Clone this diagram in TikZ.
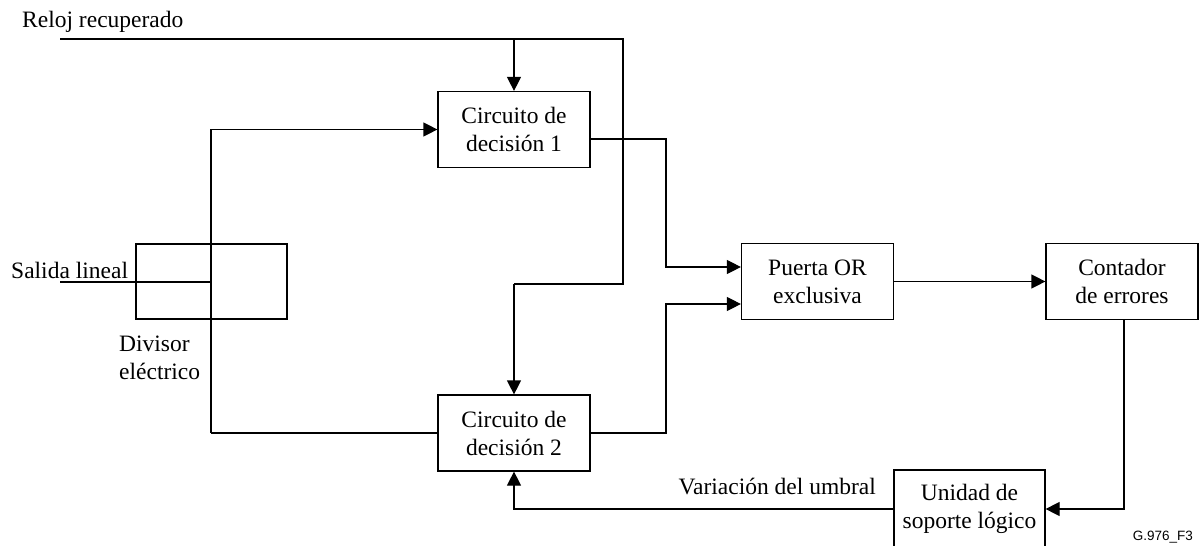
\documentclass[tikz,border=0pt]{standalone}
\usepackage{fontspec}
\setmainfont{Liberation Serif}
\newfontfamily\gfont{Liberation Sans}
\usetikzlibrary{arrows.meta}
\begin{document}
\begin{tikzpicture}[x=1pt,y=-1pt,
  box/.style={draw,line width=1.2pt,inner sep=0pt,align=center,minimum width=152pt,minimum height=76pt,font=\fontsize{23.5}{28}\selectfont},
  lbl/.style={inner sep=0pt,align=left,font=\fontsize{23.5}{28}\selectfont},
  wire/.style={line width=1.2pt},
  arr/.style={wire,-{Triangle[length=14pt,width=14pt]}}]
\useasboundingbox (0,0) rectangle (1200,546);
% boxes
\node[box] (c1) at (514,129.5) {Circuito de\\decisión 1};
\node[box] (c2) at (514,433) {Circuito de\\decisión 2};
\node[box,minimum width=151pt,minimum height=75pt] (div) at (211.5,281.5) {};
\node[box] (xor) at (817.5,281.5) {Puerta OR\\exclusiva};
\node[box] (cnt) at (1122,281.5) {Contador\\de errores};
\node[box,minimum width=151pt,minimum height=77pt] (uni) at (969.5,508.5) {Unidad de\\soporte lógico};
% labels
\node[lbl,anchor=west] (reloj) at (22,22) {Reloj recuperado};
\node[lbl,anchor=west] (salida) at (11,270) {Salida lineal};
\node[lbl,anchor=west] (divtxt) at (119,358) {Divisor\\eléctrico};
\node[lbl,anchor=east] (var) at (876,487) {Variación del umbral};
\node[inner sep=0pt,anchor=east,font=\gfont\fontsize{13.5}{16}\selectfont] (fig) at (1193,537) {G.976\_F3};
% coordinates
\coordinate (clkin) at (60,39);
\coordinate (clkc) at (623,39);
\coordinate (clkd) at (623,284);
\coordinate (linin) at (60,282);
\coordinate (splitx) at (211,0);
\coordinate (h1) at (0,139);
\coordinate (jx) at (666,0);
\coordinate (xin1) at (0,267);
\coordinate (xin2) at (0,304);
\coordinate (cntx) at (1124,0);
\coordinate (fb) at (0,509);
% clock
\draw[wire] (clkin) -- (clkc) -- (clkd) -- (c2.north |- clkd);
\draw[arr] (c2.north |- clkd) -- (c2.north);
\draw[arr] (c1.north |- clkc) -- (c1.north);
% input splitter
\draw[wire] (linin) -- (splitx |- linin);
\draw[arr] (splitx |- c2.west) -- (splitx |- c1.west) -- (c1.west);
\draw[wire] (splitx |- c2.west) -- (c2.west);
% decision outputs to XOR
\draw[arr] (c1.east |- h1) -- (jx |- h1) -- (jx |- xin1) -- (xor.west |- xin1);
\draw[arr] (c2.east) -- (jx |- c2.east) -- (jx |- xin2) -- (xor.west |- xin2);
% XOR to counter
\draw[arr] (xor.east) -- (cnt.west);
% counter to logic unit
\draw[arr] (cntx |- cnt.south) -- (cntx |- fb) -- (uni.east |- fb);
% feedback
\draw[arr] (uni.west |- fb) -- (c2.south |- fb) -- (c2.south);
\end{tikzpicture}
\end{document}
